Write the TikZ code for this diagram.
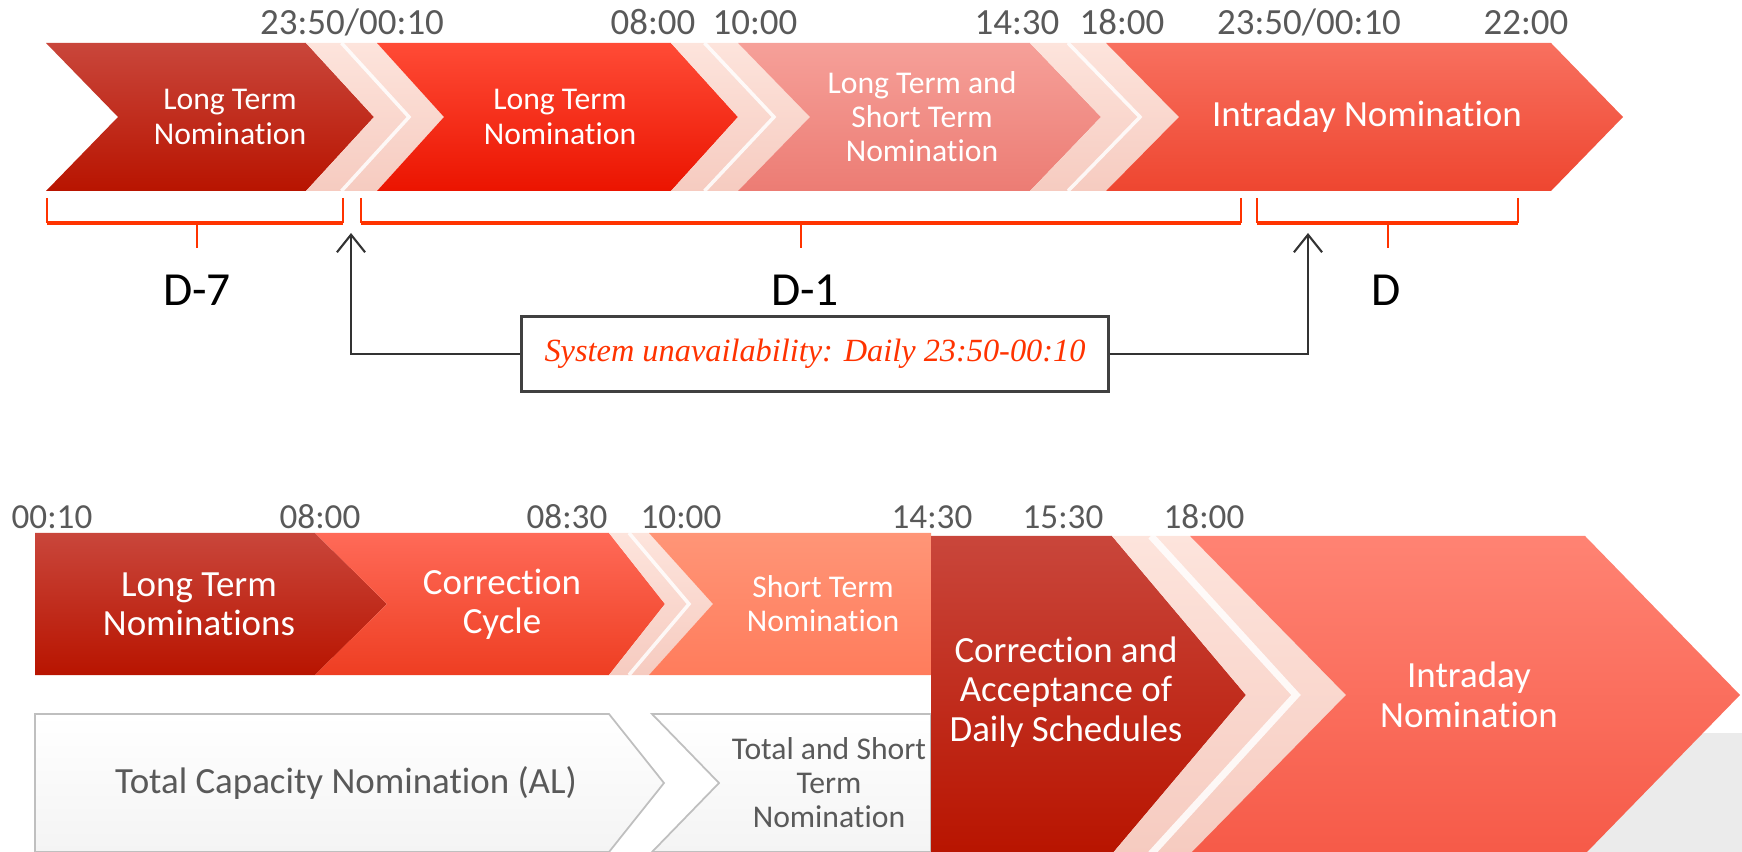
\documentclass[tikz,border=0pt]{standalone}
\usepackage{fontspec}
\setmainfont{Carlito}[Ligatures={NoCommon,NoRequired,NoContextual}]
\newfontfamily\timesfont{Liberation Serif}
\usetikzlibrary{arrows.meta}

\definecolor{stampgray}{HTML}{595959}
\definecolor{braceRed}{HTML}{FF3300}
\definecolor{boxgray}{HTML}{404040}
\definecolor{linkgray}{HTML}{333333}
\definecolor{backgray}{HTML}{EBEBEB}
\definecolor{deepA}{HTML}{C9463B}
\definecolor{deepB}{HTML}{B81400}
\definecolor{brightA}{HTML}{FF4B36}
\definecolor{brightB}{HTML}{EB1400}
\definecolor{pinkA}{HTML}{F6A099}
\definecolor{pinkB}{HTML}{EC7C74}
\definecolor{coralA}{HTML}{F8705F}
\definecolor{coralB}{HTML}{EE4630}
\definecolor{sepA}{HTML}{FDE4DC}
\definecolor{sepB}{HTML}{F6CBC0}
\definecolor{corrA}{HTML}{FF6A58}
\definecolor{corrB}{HTML}{EE3E22}
\definecolor{peachA}{HTML}{FF9577}
\definecolor{peachB}{HTML}{FF7C5C}
\definecolor{salmA}{HTML}{FF8373}
\definecolor{salmB}{HTML}{F65A48}
\definecolor{whiteB}{HTML}{F4F4F4}
\definecolor{rimgray}{HTML}{BFBFBF}

% chevron outline: left, right, top, bottom, notch depth, tip depth
\newcommand{\chev}[6]{(#1,#3) -- (#2,#3) -- ({#2+#6},{(#3+#4)/2}) -- (#2,#4) -- (#1,#4) -- ({#1+#5},{(#3+#4)/2}) -- cycle}
% light stripe through the middle of a separator
\newcommand{\midline}[6]{({(#1+#2)/2},#3) -- ({(#1+#2)/2+(#5+#6)/2},{(#3+#4)/2}) -- ({(#1+#2)/2},#4)}

\begin{document}
\begin{tikzpicture}[
			x=0.01cm, y=-0.01cm,
			stamp/.style={font=\fontsize{10.5}{12}\selectfont,text=stampgray,anchor=base,inner sep=0pt},
			lowstamp/.style={stamp,font=\fontsize{10}{12}\selectfont},
			tag/.style={font=\fontsize{9}{9.7}\selectfont,text=white,align=center,inner sep=0pt},
			bigtag/.style={tag,font=\fontsize{10.5}{11.2}\selectfont},
			greytag/.style={tag,text=stampgray},
			day/.style={font=\fontsize{13.5}{15}\selectfont,inner sep=0pt},
			legline/.style={draw=braceRed,line width=0.6pt},
			barline/.style={draw=braceRed,line width=1.1pt},
			sysbox/.style={draw=boxgray,line width=0.9pt,fill=white,minimum width=5.87cm,
			minimum height=0.75cm,inner sep=0pt,text=braceRed,
			font=\timesfont\itshape\fontsize{9.2}{11}\selectfont},
			link/.style={draw=linkgray,line width=0.6pt,-{Straight Barb[length=5pt,width=8pt]}},
			deepred/.style={top color=deepA,bottom color=deepB},
			brightred/.style={top color=brightA,bottom color=brightB},
			pinkred/.style={top color=pinkA,bottom color=pinkB},
			coralred/.style={top color=coralA,bottom color=coralB},
			corrred/.style={top color=corrA,bottom color=corrB},
			peach/.style={top color=peachA,bottom color=peachB},
			salmon/.style={top color=salmA,bottom color=salmB},
			sepfill/.style={top color=sepA,bottom color=sepB},
			sepline/.style={draw=white,line width=1pt,opacity=0.85},
			whitechev/.style={top color=white,bottom color=whiteB,draw=rimgray,line width=0.5pt}
			]
			\useasboundingbox (0,0) rectangle (1742,852);

			% upper timeline
			\path[deepred] \chev{46}{306}{43}{191}{72}{68};
			\path[sepfill] \chev{306}{377}{43}{191}{68}{67};
			\draw[sepline] \midline{306}{377}{43}{191}{68}{67};
			\path[brightred] \chev{377}{671}{43}{191}{67}{67};
			\path[sepfill] \chev{671}{738}{43}{191}{67}{72};
			\draw[sepline] \midline{671}{738}{43}{191}{67}{72};
			\path[pinkred] \chev{738}{1030}{43}{191}{72}{71};
			\path[sepfill] \chev{1030}{1106}{43}{191}{71}{73};
			\draw[sepline] \midline{1030}{1106}{43}{191}{71}{73};
			\path[coralred] \chev{1106}{1551}{43}{191}{73}{72};

			\node[tag] (ltnA) at (230,117) {Long Term\\Nomination};
			\node[tag] (ltnB) at (560,117) {Long Term\\Nomination};
			\node[tag] (ltst) at (922,117) {Long Term and\\Short Term\\Nomination};
			\node[bigtag] (intraA) at (1367,117) {Intraday Nomination};

			\node[stamp] (tA) at (352,35) {23:50/00:10};
			\node[stamp] (tB) at (653,35) {08:00};
			\node[stamp] (tC) at (755,35) {10:00};
			\node[stamp] (tD) at (1017,35) {14:30};
			\node[stamp] (tE) at (1122,35) {18:00};
			\node[stamp] (tF) at (1309,35) {23:50/00:10};
			\node[stamp] (tG) at (1526,35) {22:00};

			% day brackets
			\draw[legline] (47,198) -- (47,223) (343,198) -- (343,223) (197,223) -- (197,248);
			\draw[barline] (47,223) -- (343,223);
			\draw[legline] (361,198) -- (361,223) (1241,198) -- (1241,223) (801,223) -- (801,248);
			\draw[barline] (361,223) -- (1241,223);
			\draw[legline] (1257,198) -- (1257,223) (1518,198) -- (1518,223) (1388,223) -- (1388,248);
			\draw[barline] (1257,223) -- (1518,223);

			\node[day] (dSeven) at (197,290) {D-7};
			\node[day] (dOne) at (805,290) {D-1};
			\node[day] (dZero) at (1386,290) {D};

			\node[sysbox] (sys) at (815,354) {System unavailability: Daily 23:50-00:10};
			\coordinate (pinA) at (351,233);
			\coordinate (pinB) at (1308,233);
			\draw[link] (sys.west) -| (pinA);
			\draw[link] (sys.east) -| (pinB);

			% lower timeline
			\fill[backgray] (1150,733) rectangle (1742,852);
			\path[deepred] \chev{35}{315}{533}{675}{0}{72};
			\path[corrred] \chev{315}{609}{533}{675}{72}{56};
			\path[sepfill] \chev{609}{649}{533}{675}{56}{64};
			\draw[sepline] \midline{609}{649}{533}{675}{56}{64};
			\path[peach] \chev{649}{931}{533}{675}{64}{0};
			\path[whitechev] \chev{35}{609}{714}{852}{0}{55};
			\path[whitechev] \chev{652}{931}{714}{852}{67}{0};
			\path[deepred] \chev{931}{1112}{536}{854}{0}{134};
			\path[sepfill] \chev{1112}{1190}{536}{854}{134}{156};
			\draw[sepline,line width=2pt] \midline{1112}{1190}{536}{854}{134}{156};
			\path[salmon] \chev{1190}{1585}{536}{854}{156}{155};

			\node[bigtag] (ltnoms) at (199,604) {Long Term\\Nominations};
			\node[bigtag] (corr) at (502,604) {Correction\\Cycle};
			\node[tag] (stn) at (823,604) {Short Term\\Nomination};
			\node[bigtag,text=stampgray] (tcn) at (346,783) {Total Capacity Nomination (AL)};
			\node[greytag] (tstn) at (829,783) {Total and Short\\Term\\Nomination};
			\node[bigtag] (accept) at (1066,692) {Correction and\\Acceptance of\\Daily Schedules};
			\node[bigtag] (intraB) at (1469,695) {Intraday\\Nomination};

			\node[lowstamp] (sA) at (52,529) {00:10};
			\node[lowstamp] (sB) at (320,529) {08:00};
			\node[lowstamp] (sC) at (567,529) {08:30};
			\node[lowstamp] (sD) at (681,529) {10:00};
			\node[lowstamp] (sE) at (932,529) {14:30};
			\node[lowstamp] (sF) at (1063,529) {15:30};
			\node[lowstamp] (sG) at (1204,529) {18:00};
\end{tikzpicture}
\end{document}
